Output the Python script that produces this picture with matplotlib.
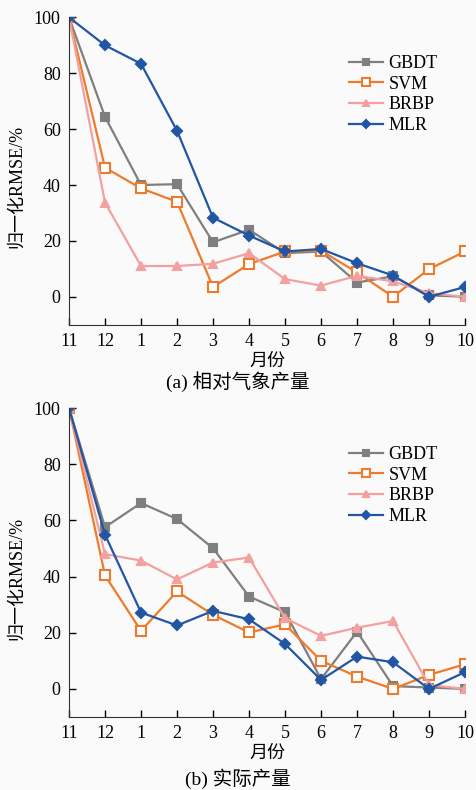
import numpy as np
import matplotlib
matplotlib.use('Agg')
import matplotlib.pyplot as plt

plt.rcParams['font.family'] = ['Liberation Serif', 'Noto Sans CJK SC']
plt.rcParams['axes.unicode_minus'] = False

months = ['11', '12', '1', '2', '3', '4', '5', '6', '7', '8', '9', '10']
models = ['GBDT', 'SVM', 'BRBP', 'MLR']

# (a) 相对气象产量
gbdt_a = [100, 64.4, 40, 40.3, 19.5, 24, 15.6, 16.2, 5.1, 7.3, 0.5, 0]
svm_a = [100, 46.2, 38.8, 34, 3.5, 11.7, 16.2, 16.5, 8.7, 0, 9.9, 16.2]
brbp_a = [100, 33.7, 11, 11, 11.8, 15.6, 6.3, 4, 7.5, 5.5, 1.3, 0]
mlr_a = [100, 90, 83.4, 59.4, 28.3, 21.9, 16.2, 17.1, 12, 7.6, 0, 3.5]

# (b) 实际产量
gbdt_b = [100, 57.6, 66.2, 60.5, 50.1, 32.9, 27.3, 3.5, 20.4, 1, 0.5, 0]
svm_b = [100, 40.4, 20.7, 34.7, 26.4, 20.1, 23, 10, 4.4, 0, 5, 8.8]
brbp_b = [100, 48, 45.7, 39, 45, 46.8, 25.2, 18.9, 21.8, 24.2, 1.4, 0]
mlr_b = [100, 54.9, 27.2, 22.6, 27.8, 24.8, 16, 3.2, 11.5, 9.5, 0, 6]

colors = ['#7f7f7f', '#ee7b2c', '#f2a0a0', '#2256a4']
markers = ['s', 's', '^', 'D']
facecols = ['#7f7f7f', 'white', '#f2a0a0', '#2256a4']
msizes = [6, 7, 6, 5.5]

bg = '#fafafa'
fig = plt.figure(figsize=(4.76, 7.9), dpi=100, facecolor=bg)
ax1 = fig.add_axes([0.145, 0.589, 0.832, 0.389])
ax2 = fig.add_axes([0.145, 0.0924, 0.832, 0.391])

x = np.arange(len(months))

def draw(ax, data, title, ty):
    ax.set_facecolor(bg)
    for name, y, c, m, fc, ms in zip(models, data, colors, markers, facecols, msizes):
        ax.plot(x, y, color=c, marker=m, markerfacecolor=fc, markeredgecolor=c,
                markeredgewidth=1.5, markersize=ms, linewidth=1.6, label=name)
    ax.set_xlim(0, 11)
    ax.set_ylim(-10, 100)
    ax.set_xticks(x)
    ax.set_xticklabels(months)
    ax.set_yticks([0, 20, 40, 60, 80, 100])
    ax.tick_params(direction='in', length=5, width=1, labelsize=13, pad=6)
    ax.spines['top'].set_visible(False)
    ax.spines['right'].set_visible(False)
    ax.spines['left'].set_color('#333333')
    ax.spines['bottom'].set_color('#333333')
    ax.set_ylabel('归一化RMSE/%', fontsize=13)
    ax.yaxis.set_label_coords(-0.11, 0.45)
    ax.set_xlabel('月份', fontsize=13, labelpad=2)
    fig.text(0.5, ty, title, ha='center', va='center', fontsize=14)
    ax.legend(loc='upper left', bbox_to_anchor=(0.665, 0.93), frameon=False,
              fontsize=13, handlelength=1.9, labelspacing=0.2, handletextpad=0.3,
              markerscale=0.75)

draw(ax1, [gbdt_a, svm_a, brbp_a, mlr_a], '(a) 相对气象产量', 1 - 382 / 790)
draw(ax2, [gbdt_b, svm_b, brbp_b, mlr_b], '(b) 实际产量', 1 - 779 / 790)

fig.savefig('out.png', dpi=100, facecolor=bg)
